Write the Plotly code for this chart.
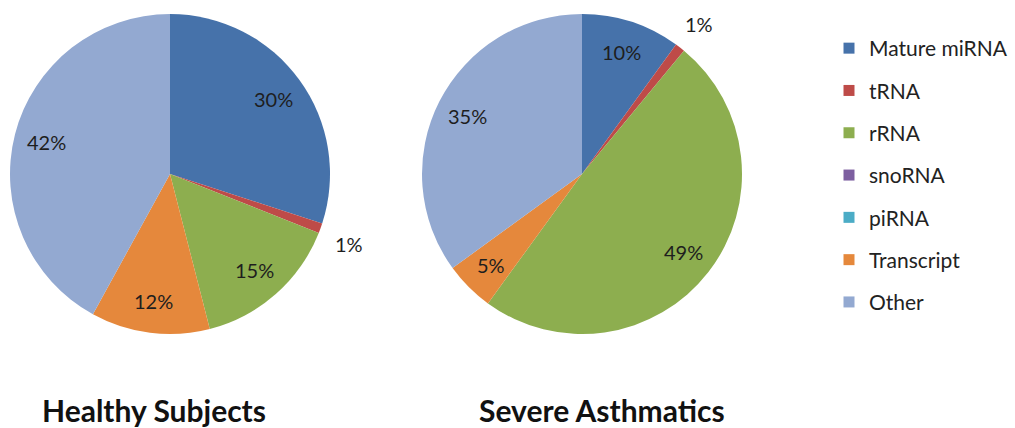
import math
import plotly.graph_objects as go

categories = ["Mature miRNA", "tRNA", "rRNA", "snoRNA", "piRNA", "Transcript", "Other"]
healthy_pct = [30, 1, 15, 0, 0, 12, 42]
asthma_pct = [10, 1, 49, 0, 0, 5, 35]
group_titles = ["Healthy Subjects", "Severe Asthmatics"]

colors = ["#4672AA", "#BE4B48", "#8DAE4F", "#7D5FA0", "#4BACC6", "#E5883C", "#93A9D1"]

W, H = 1015, 428
FONT = "Lato, 'Open Sans', sans-serif"
LABEL_COLOR = "#1e1e1e"

# pie geometry in pixels: centre x, centre y (from top), radius
pies = [(170, 174, 160), (582, 174, 160)]


def pixel_to_paper(px, py):
    return px / W, (H - py) / H


fig = go.Figure()

for vals, (cx, cy, r) in zip([healthy_pct, asthma_pct], pies):
    x0, y1 = pixel_to_paper(cx - r, cy - r)
    x1, y0 = pixel_to_paper(cx + r, cy + r)
    fig.add_trace(go.Pie(
        labels=categories,
        values=vals,
        textinfo="none",
        sort=False,
        direction="clockwise",
        rotation=0,
        marker=dict(colors=colors, line=dict(width=0)),
        domain=dict(x=[x0, x1], y=[y0, y1]),
        showlegend=False,
        hoverinfo="label+percent",
    ))

    # percentage labels along each slice's bisector
    total = sum(vals)
    acc = 0
    for v in vals:
        if v == 0:
            continue
        mid = (acc + v / 2) / total * 2 * math.pi
        acc += v
        small = v / total < 0.03
        f = 1.19 if small else 0.8
        lx = cx + f * r * math.sin(mid)
        ly = cy - f * r * math.cos(mid) + (6 if small and math.cos(mid) < 0 else 0)
        ax, ay = pixel_to_paper(lx, ly)
        fig.add_annotation(
            text=f"{v}%", x=ax, y=ay, xref="paper", yref="paper",
            xanchor="center", yanchor="middle", showarrow=False,
            font=dict(family=FONT, size=20, color=LABEL_COLOR),
        )

# legend entries, one group per category so they can be spaced apart
for name, col in zip(categories, colors):
    fig.add_trace(go.Scatter(
        x=[None], y=[None], mode="markers", name=name, legendgroup=name,
        marker=dict(symbol="square", size=11, color=col),
        showlegend=True, hoverinfo="skip",
    ))

for title, tx in zip(group_titles, [154, 602]):
    ax, ay = pixel_to_paper(tx, 410)
    fig.add_annotation(
        text=f"<b>{title}</b>", x=ax, y=ay,
        xref="paper", yref="paper", xanchor="center", yanchor="middle",
        showarrow=False, font=dict(family=FONT, size=30, color="#111111"),
    )

fig.update_layout(
    width=W, height=H,
    margin=dict(l=0, r=0, t=0, b=0),
    paper_bgcolor="white", plot_bgcolor="white",
    xaxis=dict(visible=False), yaxis=dict(visible=False),
    legend=dict(
        x=829 / W, y=(H - 28) / H, xanchor="left", yanchor="top",
        font=dict(family=FONT, size=21, color="#222222"),
        tracegroupgap=12, traceorder="grouped",
        bgcolor="rgba(0,0,0,0)", itemwidth=30,
    ),
)

fig.write_html("out.html")
